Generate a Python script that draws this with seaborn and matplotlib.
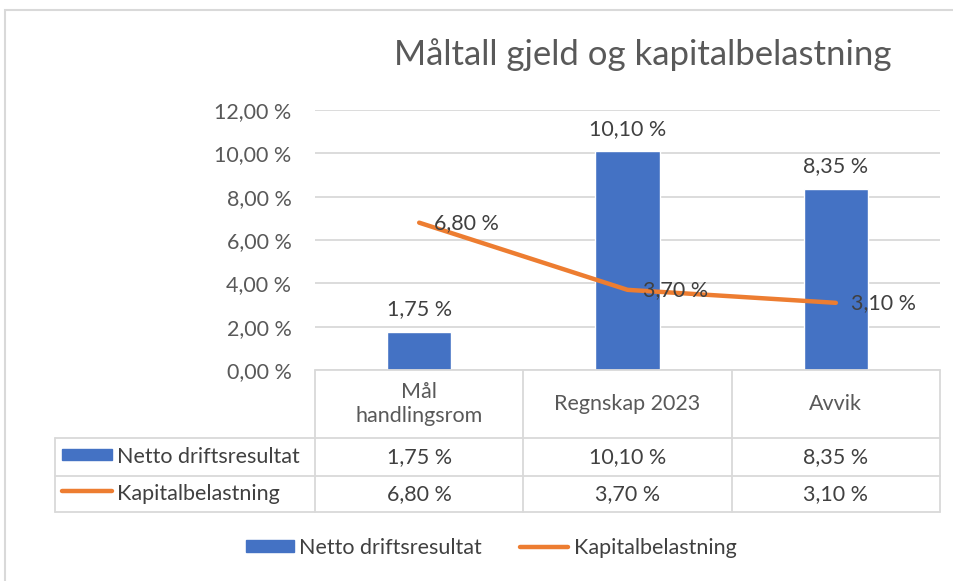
import numpy as np
import matplotlib
matplotlib.use("Agg")
import matplotlib.pyplot as plt
from matplotlib.patches import Rectangle
from matplotlib.lines import Line2D
import seaborn as sns

# data
categories = ["Mål\nhandlingsrom", "Regnskap 2023", "Avvik"]
netto = [1.75, 10.10, 8.35]
kapital = [6.80, 3.70, 3.10]
series_names = ["Netto driftsresultat", "Kapitalbelastning"]
yticks = [0, 2, 4, 6, 8, 10, 12]

BLUE = "#4472C4"
ORANGE = "#ED7D31"
TXT = "#595959"
DARK = "#404040"
GRID = "#D9D9D9"
FS = 15.5

sns.set_theme(style="white")
plt.rcParams["font.family"] = ["Lato", "DejaVu Sans"]


def pct(v):
    return f"{v:.2f} %".replace(".", ",")


W, H = 954, 581
fig = plt.figure(figsize=(W / 100, H / 100), dpi=100)
ax = fig.add_axes([315 / W, 1 - 370 / H, 625 / W, 260 / H])

sns.barplot(x=categories, y=netto, color=BLUE, width=0.31, saturation=1,
            ax=ax, label=series_names[0])
sns.lineplot(x=np.arange(len(categories)), y=kapital, color=ORANGE,
             linewidth=3.2, sort=False, ax=ax, label=series_names[1])

ax.set_xlim(-0.5, len(categories) - 0.5)
ax.set_ylim(0, 12)
ax.set_yticks(yticks)
ax.set_yticklabels([pct(t) for t in yticks], color=TXT, fontsize=FS)
ax.tick_params(axis="y", length=0, pad=17)
ax.set_xticks([])
ax.set_xlabel("")
ax.set_ylabel("")
ax.grid(axis="y", color=GRID, linewidth=1.3)
ax.set_axisbelow(True)
for s in ["top", "right", "left", "bottom"]:
    ax.spines[s].set_visible(False)
if ax.get_legend():
    ax.get_legend().remove()

# data labels
for i, v in enumerate(netto):
    ax.annotate(pct(v), (i, v), xytext=(0, 9), textcoords="offset points",
                ha="center", va="bottom", fontsize=FS, color=DARK)
for i, v in enumerate(kapital):
    ax.annotate(pct(v), (i, v), xytext=(11, 0), textcoords="offset points",
                ha="left", va="center", fontsize=FS, color=DARK)

# data table below the plot
tr = ax.get_xaxis_transform()
px = 260.0
y_hdr = -68 / px
y_r1 = -106 / px
y_r2 = -142 / px
x_left = -0.5 - 260 / (625 / 3)
n = len(categories)
tkw = dict(transform=tr, clip_on=False, color=GRID, linewidth=1.3)
ax.plot([-0.5, n - 0.5], [0, 0], **tkw)
for y in [y_hdr, y_r1, y_r2]:
    ax.plot([x_left, n - 0.5], [y, y], **tkw)
for x in np.arange(n + 1) - 0.5:
    ax.plot([x, x], [0, y_r2], **tkw)
ax.plot([x_left, x_left], [y_hdr, y_r2], **tkw)

for i, c in enumerate(categories):
    ax.text(i, y_hdr / 2, c, transform=tr, ha="center", va="center",
            fontsize=FS, color=TXT, linespacing=1.3)
    ax.text(i, (y_hdr + y_r1) / 2, pct(netto[i]), transform=tr, ha="center",
            va="center", fontsize=FS, color=DARK)
    ax.text(i, (y_r1 + y_r2) / 2, pct(kapital[i]), transform=tr, ha="center",
            va="center", fontsize=FS, color=DARK)

# legend keys inside the table
fig.add_artist(Rectangle((62 / W, 1 - 460 / H), 50 / W, 11 / H,
                         transform=fig.transFigure, color=BLUE))
fig.add_artist(Line2D([62 / W, 112 / W], [1 - 491 / H, 1 - 491 / H],
                      transform=fig.transFigure, color=ORANGE, linewidth=3.2,
                      solid_capstyle="round"))
fig.text(117 / W, 1 - 457 / H, series_names[0], ha="left", va="center",
         fontsize=FS, color=DARK)
fig.text(117 / W, 1 - 494 / H, series_names[1], ha="left", va="center",
         fontsize=FS, color=DARK)

# title
fig.text(643 / W, 1 - 55 / H, "Måltall gjeld og kapitalbelastning",
         ha="center", va="center", fontsize=25, color=TXT)

# bottom legend
handles = [Rectangle((0, 0), 1, 1, color=BLUE),
           Line2D([0], [0], color=ORANGE, linewidth=3.2)]
fig.legend(handles, series_names, loc="center",
           bbox_to_anchor=(491 / W, 1 - 548 / H), ncol=2, frameon=False,
           fontsize=FS, handlelength=2.25, handleheight=0.5,
           handletextpad=0.25, columnspacing=1.75, labelcolor=DARK)

# chart border
fig.add_artist(Rectangle((5 / W, -0.05), 1.0, 1 - 10 / H + 0.05,
                         transform=fig.transFigure, fill=False,
                         edgecolor=GRID, linewidth=1.5))

fig.savefig("out.png", dpi=100)
